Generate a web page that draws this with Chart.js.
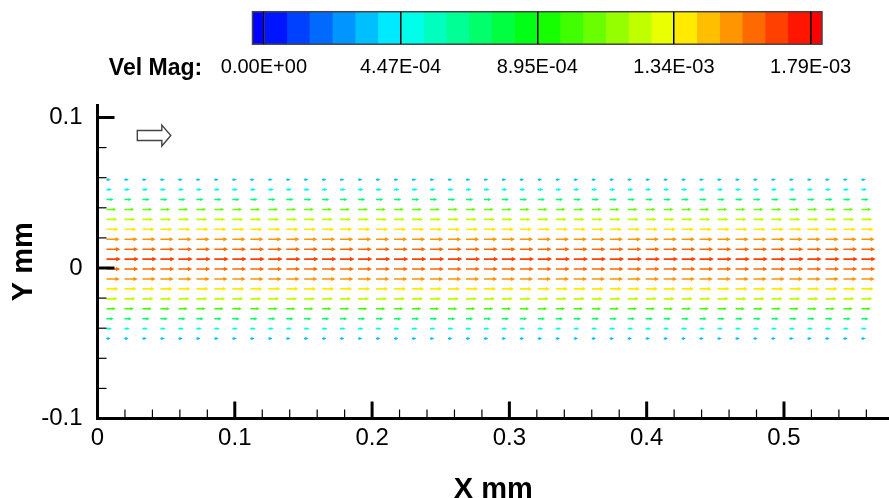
<!DOCTYPE html>
<html>
<head>
<meta charset="utf-8">
<script src="https://cdn.jsdelivr.net/npm/chart.js@4.4.0/dist/chart.umd.min.js"></script>
<style>
  html, body { margin: 0; padding: 0; background: #fff; }
  #wrap { position: relative; width: 889px; height: 498px; }
  #main, #bar { position: absolute; left: 0; top: 0; }
</style>
</head>
<body>
<div id="wrap">
  <canvas id="main" width="889" height="498"></canvas>
  <canvas id="bar" width="889" height="90"></canvas>
</div>
<script>
// vector grid columns, X mm
const colX = [0.0065, 0.0196, 0.0327, 0.0458, 0.0589, 0.0720, 0.0851, 0.0982, 0.1113, 0.1244,
  0.1375, 0.1505, 0.1636, 0.1767, 0.1898, 0.2029, 0.2160, 0.2291, 0.2422, 0.2553,
  0.2684, 0.2815, 0.2945, 0.3076, 0.3207, 0.3338, 0.3469, 0.3600, 0.3731, 0.3862,
  0.3993, 0.4124, 0.4255, 0.4385, 0.4516, 0.4647, 0.4778, 0.4909, 0.5040, 0.5171,
  0.5302, 0.5433, 0.5564];
// vector grid rows, Y mm (top to bottom)
const rowY = [0.0587, 0.0521, 0.0455, 0.0389, 0.0323, 0.0257, 0.0191, 0.0125, 0.0059,
  -0.0007, -0.0073, -0.0139, -0.0205, -0.0271, -0.0337, -0.0403, -0.0469];
// velocity magnitude of each row
const rowMag = [3.4e-4, 4.8e-4, 7.1e-4, 1.07e-3, 1.23e-3, 1.38e-3, 1.52e-3, 1.60e-3, 1.67e-3,
  1.61e-3, 1.53e-3, 1.39e-3, 1.24e-3, 1.01e-3, 7.2e-4, 4.9e-4, 3.3e-4];
// reference vector location
const refPoint = [{ x: 0.029, y: 0.088 }];

// contour legend
const velMin = 0, velMax = 1.79e-3, nLevels = 24;
const cbTicks = [0, 4.475e-4, 8.95e-4, 1.3425e-3, 1.79e-3];
const cbLabels = ['0.00E+00', '4.47E-04', '8.95E-04', '1.34E-03', '1.79E-03'];

const vecScale = 5.5;   // mm of arrow per unit of velocity
const FONT = "'Liberation Sans', Arial, Helvetica, sans-serif";

function rainbow(t) {
  t = Math.max(0, Math.min(1, t));
  let r, g, b;
  if (t < 0.25) { r = 0; g = 255 * t / 0.25; b = 255; }
  else if (t < 0.5) { r = 0; g = 255; b = 255 * (0.5 - t) / 0.25; }
  else if (t < 0.75) { r = 255 * (t - 0.5) / 0.25; g = 255; b = 0; }
  else { r = 255; g = 255 * (1 - t) / 0.25; b = 0; }
  return 'rgb(' + Math.round(r) + ',' + Math.round(g) + ',' + Math.round(b) + ')';
}
const step = (velMax - velMin) / nLevels;
function bandColor(v) {
  const k = Math.floor((v - velMin) / step);
  return rainbow((k + 0.5) / nLevels);
}
const isMajor = v => Math.abs(v * 10 - Math.round(v * 10)) < 1e-6;
const fmt = v => Math.abs(v) < 1e-9 ? '0' : String(+v.toFixed(2));

// ---- main vector plot ----
const vectorPlugin = {
  id: 'vectors',
  afterDatasetsDraw(chart) {
    const ctx = chart.ctx, xs = chart.scales.x;
    chart.data.datasets.forEach((ds, i) => {
      const meta = chart.getDatasetMeta(i);
      ctx.save();
      if (ds.mag !== undefined) {
        ctx.strokeStyle = ds.borderColor;
        ctx.lineWidth = 1.6;
        meta.data.forEach((pt, j) => {
          const x0 = pt.x, y0 = pt.y;
          const x1 = xs.getPixelForValue(ds.data[j].x + ds.mag * vecScale);
          const h = Math.max(1.5, (x1 - x0) * 0.22);
          ctx.beginPath();
          ctx.moveTo(x0, y0); ctx.lineTo(x1, y0);
          ctx.moveTo(x1 - h, y0 - h * 0.5); ctx.lineTo(x1, y0); ctx.lineTo(x1 - h, y0 + h * 0.5);
          ctx.stroke();
        });
      } else if (ds.refArrow) {
        const p = meta.data[0];
        const x = p.x, y = p.y;
        ctx.beginPath();
        ctx.moveTo(x, y - 5); ctx.lineTo(x + 24.5, y - 5); ctx.lineTo(x + 24.5, y - 10.5);
        ctx.lineTo(x + 33.5, y); ctx.lineTo(x + 24.5, y + 10.5); ctx.lineTo(x + 24.5, y + 5);
        ctx.lineTo(x, y + 5); ctx.closePath();
        ctx.fillStyle = '#fff'; ctx.fill();
        ctx.strokeStyle = '#444'; ctx.lineWidth = 1.4; ctx.stroke();
      }
      ctx.restore();
    });
  }
};

const tickPlugin = {
  id: 'inTicks',
  afterDraw(chart) {
    const ctx = chart.ctx, xs = chart.scales.x, ys = chart.scales.y, a = chart.chartArea;
    ctx.save();
    ctx.strokeStyle = '#000';
    ys.ticks.forEach(t => {
      const p = ys.getPixelForValue(t.value), maj = isMajor(t.value);
      ctx.lineWidth = maj ? 3 : 1.2;
      ctx.beginPath(); ctx.moveTo(a.left, p); ctx.lineTo(a.left + (maj ? 17 : 9), p); ctx.stroke();
    });
    xs.ticks.forEach(t => {
      const p = xs.getPixelForValue(t.value), maj = isMajor(t.value);
      ctx.lineWidth = maj ? 3 : 1.2;
      ctx.beginPath(); ctx.moveTo(p, a.bottom); ctx.lineTo(p, a.bottom - (maj ? 17 : 9)); ctx.stroke();
    });
    ctx.restore();
  }
};

const datasets = rowY.map((y, i) => ({
  data: colX.map(x => ({ x: x, y: y })),
  mag: rowMag[i],
  borderColor: bandColor(rowMag[i]),
  pointRadius: 0,
  showLine: false
}));
datasets.push({ data: refPoint, refArrow: true, pointRadius: 0, showLine: false });

new Chart(document.getElementById('main'), {
  type: 'scatter',
  data: { datasets: datasets },
  options: {
    responsive: false,
    animation: false,
    events: [],
    layout: { padding: { top: 105, right: 0, left: 0, bottom: 0 } },
    plugins: { legend: { display: false }, tooltip: { enabled: false } },
    scales: {
      x: {
        type: 'linear', min: 0, max: 0.5765,
        grid: { drawOnChartArea: false, drawTicks: false },
        border: { width: 3, color: '#000' },
        ticks: {
          stepSize: 0.02, includeBounds: false, autoSkip: false, maxRotation: 0,
          padding: 5, color: '#000', font: { size: 24, family: FONT },
          callback: v => isMajor(v) ? fmt(v) : ''
        },
        title: {
          display: true, text: 'X mm', color: '#000',
          font: { size: 29, weight: 'bold', family: FONT, lineHeight: 0.55 },
          padding: { top: 0, bottom: 0 }
        },
        afterFit: s => { s.height = 79.5; }
      },
      y: {
        type: 'linear', min: -0.1, max: 0.1083,
        grid: { drawOnChartArea: false, drawTicks: false },
        border: { width: 3, color: '#000' },
        ticks: {
          stepSize: 0.02, includeBounds: false, autoSkip: false,
          padding: 15, color: '#000', font: { size: 24, family: FONT },
          callback: v => isMajor(v) ? fmt(v) : ''
        },
        title: {
          display: true, text: 'Y mm', color: '#000',
          font: { size: 29, weight: 'bold', family: FONT, lineHeight: 1 },
          padding: { top: 9, bottom: 0 }
        },
        afterFit: s => { s.width = 97.5; }
      }
    }
  },
  plugins: [vectorPlugin, tickPlugin]
});

// ---- contour legend bar ----
const cells = [{ lo: velMin - step / 2, hi: velMin, color: rainbow(0) }];
for (let k = 0; k < nLevels; k++) {
  cells.push({ lo: velMin + k * step, hi: velMin + (k + 1) * step, color: rainbow((k + 0.5) / nLevels) });
}
cells.push({ lo: velMax, hi: velMax + step / 2, color: rainbow(1) });

const titleTick = -3.55e-4;   // where "Vel Mag:" sits on the legend axis

const framePlugin = {
  id: 'frame',
  afterDatasetsDraw(chart) {
    const ctx = chart.ctx, xs = chart.scales.x, a = chart.chartArea;
    const l = xs.getPixelForValue(cells[0].lo), r = xs.getPixelForValue(cells[cells.length - 1].hi);
    ctx.save();
    ctx.strokeStyle = '#444'; ctx.lineWidth = 1.5;
    ctx.strokeRect(l, a.top, r - l, a.bottom - a.top);
    ctx.restore();
  }
};

new Chart(document.getElementById('bar'), {
  type: 'bar',
  data: {
    labels: ['Vel Mag'],
    datasets: cells.map(c => ({
      data: [[c.lo, c.hi]],
      backgroundColor: c.color,
      borderWidth: 0,
      barPercentage: 1,
      categoryPercentage: 1,
      grouped: false
    }))
  },
  options: {
    indexAxis: 'y',
    responsive: false,
    animation: false,
    events: [],
    layout: { padding: { left: 144.8, right: 67, top: 11.7, bottom: 0 } },
    plugins: { legend: { display: false }, tooltip: { enabled: false } },
    scales: {
      y: { display: false },
      x: {
        type: 'linear', min: -3.9e-4, max: velMax + step / 2,
        afterBuildTicks: s => { s.ticks = [titleTick].concat(cbTicks).map(v => ({ value: v })); },
        grid: {
          z: 1, drawTicks: false, lineWidth: 1.5,
          color: c => c.index === 0 ? 'rgba(0,0,0,0)' : '#000'
        },
        border: { display: false },
        ticks: {
          autoSkip: false, maxRotation: 0, padding: 11, color: '#000',
          font: c => c.index === 0 ? { size: 23, weight: 'bold', family: FONT } : { size: 20, family: FONT },
          callback: (v, i) => i === 0 ? 'Vel Mag:' : cbLabels[i - 1]
        },
        afterFit: s => { s.height = 45.8; }
      }
    }
  },
  plugins: [framePlugin]
});
</script>
</body>
</html>
